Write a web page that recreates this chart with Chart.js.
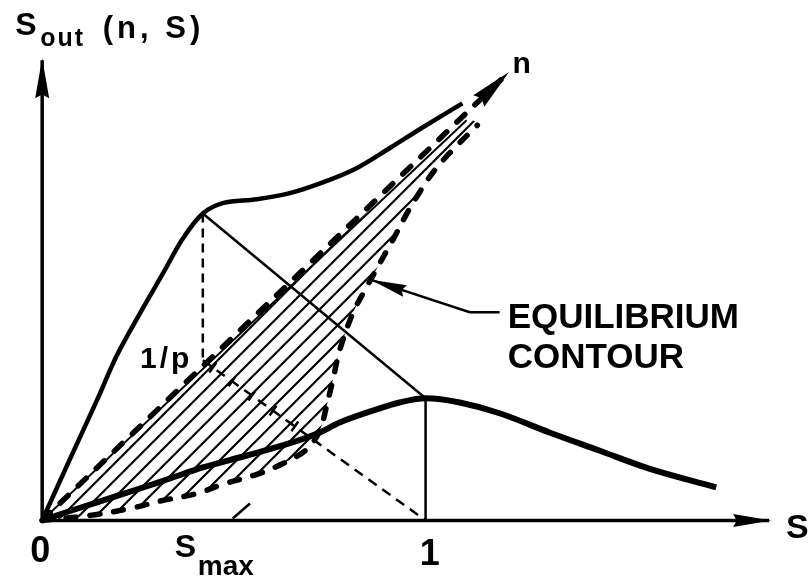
<!DOCTYPE html>
<html>
<head>
<meta charset="utf-8">
<script src="https://cdn.jsdelivr.net/npm/chart.js@4.4.0/dist/chart.umd.min.js"></script>
<style>
  html, body { margin: 0; padding: 0; background: #fff; }
  canvas { display: block; }
</style>
</head>
<body>
<canvas id="sketch" width="809" height="578"></canvas>
<script>
// S along x, S_out along y, both measured in units of S (1 is the tick under "1")
var upperCurve = [[0, 0], [0.073, 0.161], [0.143, 0.313], [0.195, 0.430], [0.255, 0.539], [0.315, 0.643],
  [0.367, 0.734], [0.419, 0.799], [0.471, 0.826], [0.560, 0.836], [0.646, 0.852], [0.732, 0.880],
  [0.820, 0.917], [0.906, 0.969], [0.992, 1.023], [1.096, 1.086]];
var lowerCurve = [[0, 0], [0.047, 0.016], [0.143, 0.047], [0.255, 0.083], [0.333, 0.109], [0.419, 0.138],
  [0.534, 0.169], [0.646, 0.201], [0.724, 0.229], [0.776, 0.255], [0.872, 0.289], [0.932, 0.307],
  [1.0, 0.318], [1.089, 0.307], [1.193, 0.279], [1.323, 0.229], [1.453, 0.182], [1.583, 0.135], [1.758, 0.086]];
var contour = [[0, 0], [0.125, 0.013], [0.229, 0.031], [0.315, 0.052], [0.404, 0.070], [0.471, 0.094],
  [0.560, 0.120], [0.628, 0.148], [0.690, 0.185], [0.724, 0.234], [0.742, 0.299], [0.758, 0.365],
  [0.776, 0.443], [0.810, 0.539], [0.846, 0.607], [0.880, 0.669], [0.914, 0.729], [0.951, 0.799],
  [0.984, 0.854], [1.023, 0.911], [1.070, 0.964], [1.135, 1.029]];
var hatchEdge = [[0, 0], [1.107, 1.042]];
var nAxis = [[0, 0], [1.214, 1.164]];
var sAxis = [[0, 0], [1.896, 0]];
var soutAxis = [[0, 0], [0, 1.198]];
var kneeDrop = [[0.419, 0.799], [0.419, 0.417]];
var tieLine = [[0.419, 0.799], [1.0, 0.318]];
var unitLine = [[1.0, 0.318], [1.0, 0]];
var pLine = [[0.419, 0.417], [1.0, 0]];
var pTicks = [[0.445, 0.398], [0.495, 0.362], [0.547, 0.325], [0.602, 0.286], [0.659, 0.245]];
var smaxTick = [[0.497, 0.005], [0.542, 0.044]];
var pointer = [[1.193, 0.542], [1.115, 0.542], [0.862, 0.625]];

var FONT = '"Liberation Sans", Arial, sans-serif';
var texts = [
  { t: 'S', x: -0.070, y: 1.263, f: 'bold 32px ' + FONT },
  { t: 'out', x: -0.005, y: 1.234, f: 'bold 25px ' + FONT, sp: 2 },
  { t: '(n, S)', x: 0.158, y: 1.255, f: 'bold 31px ' + FONT, sp: 4 },
  { t: 'n', x: 1.227, y: 1.164, f: 'bold 30px ' + FONT },
  { t: 'EQUILIBRIUM', x: 1.214, y: 0.500, f: 'bold 35px ' + FONT },
  { t: 'CONTOUR', x: 1.214, y: 0.396, f: 'bold 35px ' + FONT },
  { t: '1/p', x: 0.255, y: 0.398, f: 'bold 30px ' + FONT, sp: 3 },
  { t: 'S', x: 1.940, y: -0.047, f: 'bold 34px ' + FONT },
  { t: '0', x: -0.031, y: -0.109, f: 'bold 36px ' + FONT },
  { t: 'S', x: 0.346, y: -0.096, f: 'bold 32px ' + FONT },
  { t: 'max', x: 0.406, y: -0.143, f: 'bold 28px ' + FONT },
  { t: '1', x: 0.985, y: -0.117, f: 'bold 36px ' + FONT }
];

function pts(a) {
  return a.map(function (p) { return { x: p[0], y: p[1] }; });
}

var tickSegs = [];
pTicks.forEach(function (c) {
  tickSegs.push({ x: c[0] - 0.009, y: c[1] - 0.0127 }, { x: c[0] + 0.009, y: c[1] + 0.0127 }, { x: null, y: null });
});

// region between the thin edge and the contour, closed back to the origin
var hatchShape = pts(hatchEdge).concat(pts(contour.slice().reverse()));

function hatchPattern() {
  var c = document.createElement('canvas');
  var s = 17;
  c.width = s; c.height = s;
  var g = c.getContext('2d');
  g.strokeStyle = '#000';
  g.lineWidth = 2.2;
  g.beginPath();
  g.moveTo(-2, 2); g.lineTo(2, -2);
  g.moveTo(0, s); g.lineTo(s, 0);
  g.moveTo(s - 2, s + 2); g.lineTo(s + 2, s - 2);
  g.stroke();
  return g.createPattern(c, 'repeat');
}

var arrowHeads = {
  id: 'arrowHeads',
  afterDatasetsDraw: function (chart) {
    var ctx = chart.ctx;
    chart.data.datasets.forEach(function (ds, i) {
      if (!ds.arrow) return;
      var el = chart.getDatasetMeta(i).data;
      var tip = el[el.length - 1], prev = el[el.length - 2];
      var ang = Math.atan2(tip.y - prev.y, tip.x - prev.x);
      ctx.save();
      ctx.translate(tip.x, tip.y);
      ctx.rotate(ang);
      ctx.fillStyle = '#000';
      ctx.beginPath();
      ctx.moveTo(2, 0);
      ctx.lineTo(-ds.arrow[0], ds.arrow[1]);
      ctx.lineTo(-ds.arrow[0] * 0.9, 0);
      ctx.lineTo(-ds.arrow[0], -ds.arrow[1]);
      ctx.closePath();
      ctx.fill();
      ctx.restore();
    });
  }
};

var lettering = {
  id: 'lettering',
  afterDraw: function (chart) {
    var ctx = chart.ctx, xs = chart.scales.x, ys = chart.scales.y;
    ctx.save();
    ctx.fillStyle = '#000';
    ctx.textBaseline = 'alphabetic';
    ctx.textAlign = 'left';
    texts.forEach(function (l) {
      ctx.font = l.f;
      ctx.letterSpacing = (l.sp || 0) + 'px';
      ctx.fillText(l.t, xs.getPixelForValue(l.x), ys.getPixelForValue(l.y));
    });
    ctx.restore();
  }
};

function line(data, width, extra) {
  var ds = { data: pts(data), borderColor: '#000', borderWidth: width, tension: 0, fill: false, pointRadius: 0 };
  for (var k in extra) ds[k] = extra[k];
  return ds;
}

new Chart(document.getElementById('sketch'), {
  type: 'line',
  data: {
    datasets: [
      line(soutAxis, 3.5, { arrow: [38, 7] }),
      line(sAxis, 3.5, { arrow: [36, 6.5] }),
      line(upperCurve, 4.5, { tension: 0.35 }),
      line(lowerCurve, 6, { tension: 0.35 }),
      line(contour, 5.5, { tension: 0.35, borderDash: [10, 14], borderCapStyle: 'round' }),
      line(nAxis, 5.5, { borderDash: [11, 14], borderCapStyle: 'round', arrow: [40, 8] }),
      line(hatchEdge, 2),
      line(tieLine, 2.5),
      line(unitLine, 2.5),
      line(kneeDrop, 2.5, { borderDash: [9, 6] }),
      line(pLine, 2.5, { borderDash: [10, 7] }),
      { data: tickSegs, borderColor: '#000', borderWidth: 2.5, pointRadius: 0, spanGaps: false, fill: false },
      line(smaxTick, 2.5),
      line(pointer, 2.5, { arrow: [34, 6] }),
      {
        data: hatchShape, tension: 0.35, pointRadius: 0,
        borderColor: 'rgba(0,0,0,0)', borderWidth: 0,
        fill: 'shape', backgroundColor: hatchPattern()
      }
    ]
  },
  options: {
    responsive: false,
    animation: false,
    devicePixelRatio: 1,
    events: [],
    layout: { padding: 0 },
    plugins: { legend: { display: false }, tooltip: { enabled: false } },
    scales: {
      x: { type: 'linear', min: -0.11, max: 2.0, display: false },
      y: { type: 'linear', min: -0.15, max: 1.355, display: false }
    }
  },
  plugins: [arrowHeads, lettering]
});
</script>
</body>
</html>
